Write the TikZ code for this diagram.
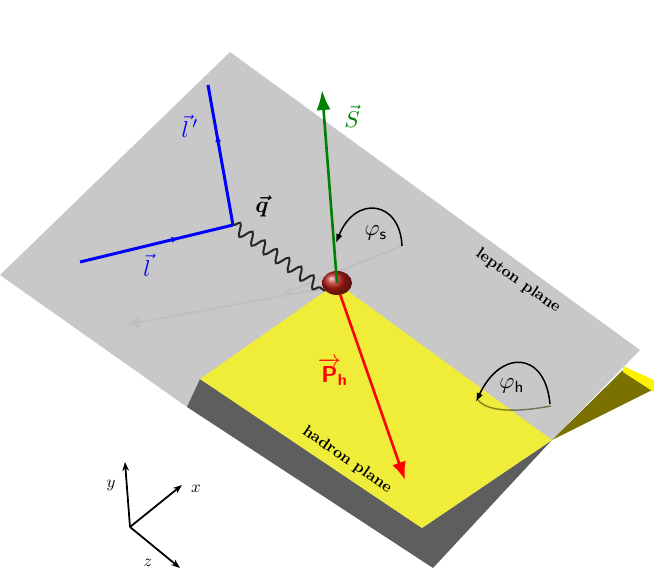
\documentclass[tikz,border=0pt]{standalone}
\usepackage{amsmath}
\usepackage{tikz}
\usetikzlibrary{arrows.meta,decorations.pathmorphing,decorations.markings,positioning}
\definecolor{leptongray}{HTML}{C8C8C8}
\definecolor{shadegray}{HTML}{5E5E5E}
\definecolor{hadyellow}{HTML}{EFEC3A}
\definecolor{flapolive}{HTML}{7A7200}
\definecolor{spingreen}{HTML}{008000}
\tikzset{
  lepline/.style={blue, line width=3pt,
    postaction={decorate, decoration={markings, mark=at position 0.65 with {\arrow{Latex[length=8pt]}}}}},
  ghost/.style={black!25, line width=1.8pt},
  angarc/.style={black, line width=1.5pt, -{Latex[length=9pt]}},
  biglabel/.style={scale=2.3, inner sep=0pt},
  planelabel/.style={font=\bfseries, scale=1.6, inner sep=0pt}
}
\begin{document}
\begin{tikzpicture}[x=1pt,y=-1pt]
\useasboundingbox (0,0) rectangle (654,573);
% planes
\fill[leptongray] (0,275) -- (230,52) -- (640,350) -- (552,440) -- (187,407) -- cycle;
\fill[shadegray] (187,407) -- (200,379) -- (422,528) -- (552,440) -- (433,568) -- cycle;
\fill[flapolive] (552,440) -- (623,370) -- (652,390) -- cycle;
\fill[yellow] (623,366) -- (654,380) -- (654,392) -- (623,372) -- cycle;
\fill[hadyellow] (200,379) -- (337,283) -- (552,440) -- (422,528) -- cycle;
% nodes
\coordinate (vtx) at (337,283);
\coordinate (lin) at (80,262);
\coordinate (kink) at (233,225);
\coordinate (lout) at (208,85);
\coordinate (stip) at (322,90);
\coordinate (ptip) at (405,480);
% projections in the lepton plane
\draw[ghost, -{Latex[length=10pt,width=8pt]}] (402,246) -- (282,294);
\draw[ghost, -{Latex[length=14pt,width=12pt]}] (330,287) -- (125,325);
% lepton lines and photon
\draw[lepline] (lin) -- (kink);
\draw[lepline] (kink) -- (lout);
\draw[black!85, line width=2pt, decorate, decoration={snake, amplitude=6pt, segment length=15pt}] (kink) -- (325,291);
% vertex blob
\shade[ball color=red!70!black, opacity=0.9] (vtx) ellipse (15pt and 12pt);
% vectors
\draw[spingreen, line width=2.6pt, -{Latex[length=20pt,width=14pt]}] (vtx) -- (stip);
\draw[red, line width=2.6pt, -{Latex[length=18pt,width=14pt]}] (340,294) -- (ptip);
% angles
\draw[angarc] (402,246) .. controls (400,200) and (355,195) .. (336,243);
\draw[black!50!flapolive, line width=1.4pt, opacity=0.6] (478,400) .. controls (490,415) and (530,410) .. (551,406);
\draw[angarc] (550,404) .. controls (545,350) and (500,350) .. (476,402);
% labels
\node[spingreen, biglabel] (slab) at (352,116) {$\vec{S}$};
\node[blue, biglabel] (llab) at (147,265) {$\vec{l}$};
\node[blue, biglabel] (lplab) at (190,126) {$\vec{l}^{\,\prime}$};
\node[biglabel] (qlab) at (262,206) {$\boldsymbol{\vec{q}}$};
\node[red, biglabel] (plab) at (333,372) {$\overrightarrow{\text{\sffamily\bfseries P}}_{\!\text{\sffamily\bfseries h}}$};
\node[biglabel] (phis) at (376,233) {$\varphi_{\text{\sffamily s}}$};
\node[biglabel] (phih) at (512,386) {$\varphi_{\text{\sffamily h}}$};
\node[planelabel, rotate=-35] (lepname) at (518,281) {lepton plane};
\node[planelabel, rotate=-35] (hadname) at (347,460) {hadron plane};
% axes
\coordinate (orig) at (130,527);
\draw[line width=1.8pt, -{Stealth[length=9pt]}] (orig) -- (125,462);
\draw[line width=1.8pt, -{Stealth[length=9pt]}] (orig) -- (182,485);
\draw[line width=1.8pt, -{Stealth[length=9pt]}] (orig) -- (180,568);
\node[scale=1.7] (ylab) at (111,485) {$y$};
\node[scale=1.7] (xlab) at (196,489) {$x$};
\node[scale=1.7] (zlab) at (148,563) {$z$};
\end{tikzpicture}
\end{document}
